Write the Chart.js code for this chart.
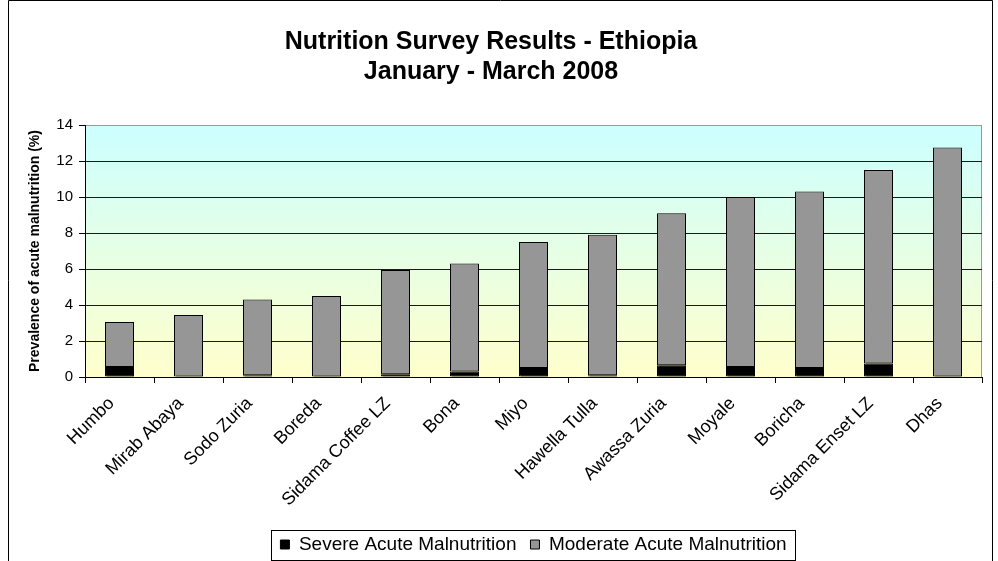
<!DOCTYPE html>
<html>
<head>
<meta charset="utf-8">
<title>Nutrition Survey Results - Ethiopia</title>
<script src="https://cdn.jsdelivr.net/npm/chart.js@4.4.1/dist/chart.umd.min.js"></script>
<style>
  body { margin: 0; background: #fff; }
  #wrap { width: 998px; height: 561px; }
</style>
</head>
<body>
<div id="wrap"><canvas id="chart" width="998" height="561"></canvas></div>
<script>
// Data
const districts = ['Humbo', 'Mirab Abaya', 'Sodo Zuria', 'Boreda', 'Sidama Coffee LZ', 'Bona', 'Miyo',
  'Hawella Tulla', 'Awassa Zuria', 'Moyale', 'Boricha', 'Sidama Enset LZ', 'Dhas'];
const severeAcute = [0.55, 0, 0.1, 0, 0.15, 0.3, 0.5, 0.1, 0.65, 0.55, 0.5, 0.75, 0];
const moderateAcute = [2.5, 3.45, 4.2, 4.5, 5.8, 6.0, 7.0, 7.8, 8.45, 9.45, 9.8, 10.75, 12.75];
const yTicks = [0, 2, 4, 6, 8, 10, 12, 14];

const fontFamily = '"Liberation Sans", Arial, sans-serif';

// Plot background gradient, outer frame, legend frame, bar shadow
const frames = {
  id: 'frames',
  beforeDraw(chart) {
    const { ctx, chartArea: a } = chart;
    const g = ctx.createLinearGradient(0, a.top, 0, a.bottom);
    g.addColorStop(0, '#CCFFFF');
    g.addColorStop(1, '#FFFFCC');
    ctx.save();
    ctx.fillStyle = g;
    ctx.fillRect(a.left, a.top, a.right - a.left, a.bottom - a.top);
    ctx.strokeStyle = '#999';
    ctx.lineWidth = 1;
    ctx.beginPath();
    ctx.moveTo(a.left, a.top + 0.5);
    ctx.lineTo(a.right - 0.5, a.top + 0.5);
    ctx.lineTo(a.right - 0.5, a.bottom);
    ctx.stroke();
    ctx.restore();
  },
  beforeDatasetsDraw(chart) {
    const ctx = chart.ctx;
    ctx.save();
    ctx.shadowColor = 'rgba(0, 0, 0, 0.45)';
    ctx.shadowOffsetX = 2;
    ctx.shadowOffsetY = 1;
    ctx.shadowBlur = 0;
  },
  afterDatasetsDraw(chart) {
    chart.ctx.restore();
  },
  afterDraw(chart) {
    const { ctx } = chart;
    ctx.save();
    ctx.strokeStyle = '#000';
    ctx.lineWidth = 1;
    ctx.beginPath();
    ctx.moveTo(8.5, chart.height);
    ctx.lineTo(8.5, 0.5);
    ctx.lineTo(992.5, 0.5);
    ctx.lineTo(992.5, chart.height);
    ctx.stroke();
    const boxes = chart.legend.legendHitBoxes;
    if (boxes && boxes.length) {
      const left = Math.min(...boxes.map(b => b.left)) - 9;
      const right = Math.max(...boxes.map(b => b.left + b.width)) + 9;
      const mid = boxes[0].top + boxes[0].height / 2;
      ctx.strokeRect(Math.round(left) + 0.5, Math.round(mid - 15) + 0.5, Math.round(right - left), 30);
    }
    ctx.restore();
  }
};

new Chart(document.getElementById('chart'), {
  type: 'bar',
  data: {
    labels: districts,
    datasets: [
      {
        label: 'Severe Acute Malnutrition',
        data: severeAcute,
        backgroundColor: '#000000',
        borderColor: '#000000',
        borderWidth: 1,
        borderSkipped: false
      },
      {
        label: 'Moderate Acute Malnutrition',
        data: moderateAcute,
        backgroundColor: '#969696',
        borderColor: '#000000',
        borderWidth: 1,
        borderSkipped: false
      }
    ]
  },
  options: {
    responsive: false,
    animation: false,
    layout: { padding: { left: 0, right: 16, top: 0, bottom: -3 } },
    datasets: { bar: { barPercentage: 0.42, categoryPercentage: 1 } },
    scales: {
      x: {
        stacked: true,
        grid: { display: true, drawOnChartArea: false, color: '#000', tickLength: 6, offset: true },
        border: { color: '#000' },
        ticks: {
          color: '#000',
          minRotation: 45,
          maxRotation: 45,
          autoSkip: false,
          padding: 10,
          labelOffset: -8,
          font: { family: fontFamily, size: 18 }
        },
        afterFit(scale) { scale.height = 144; }
      },
      y: {
        stacked: true,
        min: 0,
        max: 14,
        afterBuildTicks(scale) { scale.ticks = yTicks.map(v => ({ value: v })); },
        grid: {
          color: ctx => (ctx.tick && ctx.tick.value === 14 ? '#999' : '#1a1a1a'),
          tickColor: '#000',
          tickLength: 6
        },
        border: { color: '#000' },
        ticks: {
          color: '#000',
          padding: 6,
          font: { family: fontFamily, size: 15 }
        },
        title: {
          display: true,
          text: 'Prevalence of acute malnutrition (%)',
          color: '#000',
          padding: { top: 27, bottom: 0 },
          font: { family: fontFamily, size: 14, weight: 'bold' }
        },
        afterFit(scale) { scale.width = 85; }
      }
    },
    plugins: {
      title: {
        display: true,
        text: ['Nutrition Survey Results - Ethiopia', 'January - March 2008'],
        color: '#000',
        font: { family: fontFamily, size: 25, weight: 'bold', lineHeight: 1.2 },
        padding: { top: 27, bottom: 38 }
      },
      legend: {
        position: 'bottom',
        fullSize: false,
        labels: {
          color: '#000',
          boxWidth: 9,
          boxHeight: 9,
          padding: 14,
          font: { family: fontFamily, size: 19 }
        }
      },
      tooltip: { enabled: false }
    }
  },
  plugins: [frames]
});
</script>
</body>
</html>
